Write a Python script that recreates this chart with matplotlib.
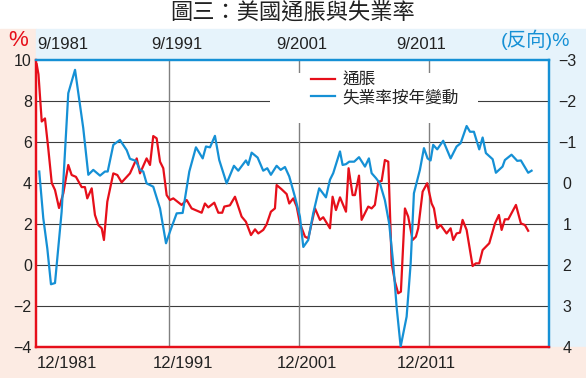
import matplotlib.pyplot as plt
from matplotlib.patches import Rectangle
from matplotlib.transforms import blended_transform_factory

# 通脹 (left axis, %)
cpi_x = [1981.57, 1981.71, 1981.96, 1982.21, 1982.46, 1982.73, 1982.98, 1983.29, 1983.62, 1984.00,
         1984.26, 1984.59, 1985.03, 1985.28, 1985.46, 1985.80, 1986.05, 1986.31, 1986.57, 1986.74,
         1987.00, 1987.46, 1987.77, 1988.10, 1988.74, 1989.26, 1989.51, 1990.02, 1990.28, 1990.53,
         1990.79, 1991.05, 1991.30, 1991.56, 1991.81, 1992.07, 1992.71, 1993.10, 1993.48, 1994.25,
         1994.50, 1994.76, 1995.22, 1995.53, 1995.83, 1995.99, 1996.42, 1996.81, 1997.32, 1997.65,
         1998.04, 1998.35, 1998.60, 1998.98, 1999.24, 1999.57, 1999.88, 2000.01, 2000.40, 2000.78,
         2000.98, 2001.29, 2001.55, 2001.80, 2002.19, 2002.44, 2002.96, 2003.34, 2003.59, 2004.11,
         2004.31, 2004.57, 2004.88, 2005.34, 2005.54, 2005.85, 2006.03, 2006.34, 2006.54, 2007.05,
         2007.31, 2007.56, 2007.82, 2008.08, 2008.33, 2008.59, 2008.85, 2009.10, 2009.35, 2009.56,
         2009.87, 2010.12, 2010.46, 2010.71, 2010.89, 2011.23, 2011.58, 2011.92, 2012.10, 2012.35,
         2012.61, 2013.07, 2013.38, 2013.58, 2013.84, 2014.10, 2014.30, 2014.61, 2015.07, 2015.32,
         2015.58, 2015.84, 2016.35, 2016.79, 2017.09, 2017.30, 2017.55, 2017.81, 2018.40, 2018.78,
         2019.09, 2019.34]
cpi = [9.8, 9.3, 7.0, 7.15, 5.7, 4.0, 3.66, 2.78, 3.5, 4.88,
       4.39, 4.3, 3.8, 3.8, 3.25, 3.74, 2.44, 1.95, 1.79, 1.22,
       3.09, 4.47, 4.39, 4.03, 4.47, 5.2, 4.47, 5.2, 4.88, 6.29,
       6.18, 5.04, 4.72, 3.41, 3.17, 3.25, 2.93, 3.17, 2.76, 2.55,
       3.0, 2.81, 3.04, 2.55, 2.55, 2.85, 2.91, 3.33, 2.36, 2.11,
       1.46, 1.74, 1.54, 1.71, 1.98, 2.6, 2.76, 3.9, 3.69, 3.46,
       3.0, 3.25, 2.85, 2.03, 1.38, 1.3, 2.76, 2.2, 2.33, 1.79,
       3.33, 2.68, 3.3, 2.6, 4.72, 3.41, 3.41, 4.36, 2.2, 2.85,
       2.76, 2.93, 4.06, 4.1, 5.12, 5.04, 0.08, -0.81, -1.38, -1.3,
       2.76, 2.36, 1.22, 1.38, 1.79, 3.58, 3.99, 3.0, 2.76, 1.79,
       1.95, 1.54, 1.79, 1.22, 1.54, 1.58, 2.2, 1.71, -0.05, 0.08,
       0.08, 0.73, 1.06, 2.03, 2.44, 1.71, 2.23, 2.23, 2.93, 2.03,
       1.95, 1.67]

# 失業率按年變動 (right axis, inverted)
unemp_x = [1981.77, 1982.08, 1982.39, 1982.67, 1982.98, 1983.49, 1984.00, 1984.52, 1985.15, 1985.54,
           1985.92, 1986.44, 1986.82, 1987.03, 1987.46, 1987.97, 1988.49, 1988.74, 1989.20, 1989.51,
           1989.76, 1990.02, 1990.53, 1991.05, 1991.51, 1991.81, 1992.33, 1992.79, 1993.30, 1993.81,
           1994.33, 1994.58, 1994.89, 1995.27, 1995.60, 1996.17, 1996.73, 1997.06, 1997.65, 1997.83,
           1998.09, 1998.55, 1998.98, 1999.29, 1999.57, 2000.01, 2000.32, 2000.65, 2000.98, 2001.42,
           2001.80, 2002.06, 2002.44, 2002.82, 2003.28, 2003.80, 2004.11, 2004.36, 2004.88, 2005.08,
           2005.34, 2005.59, 2005.97, 2006.34, 2006.80, 2007.10, 2007.31, 2007.64, 2007.95, 2008.33,
           2008.66, 2008.97, 2009.23, 2009.54, 2010.00, 2010.31, 2010.56, 2011.02, 2011.33, 2011.61,
           2011.84, 2012.04, 2012.35, 2012.81, 2013.38, 2013.84, 2014.15, 2014.61, 2014.87, 2015.17,
           2015.58, 2015.84, 2016.09, 2016.61, 2016.86, 2017.37, 2017.55, 2018.06, 2018.50, 2018.78,
           2019.34, 2019.60]
unemp_chg = [-0.28, 0.86, 1.6, 2.47, 2.44, 0.7, -2.19, -2.76, -1.34, -0.2,
             -0.32, -0.18, -0.28, -0.28, -0.93, -1.05, -0.8, -0.59, -0.54, -0.32,
             -0.28, 0.01, 0.09, 0.62, 1.47, 1.19, 0.74, 0.73, -0.28, -0.87,
             -0.6, -0.89, -0.87, -1.15, -0.56, 0.01, -0.42, -0.3, -0.55, -0.44,
             -0.74, -0.62, -0.3, -0.36, -0.2, -0.42, -0.32, -0.39, -0.16, 0.34,
             0.82, 1.56, 1.39, 0.74, 0.13, 0.35, -0.08, -0.24, -0.77, -0.44,
             -0.46, -0.52, -0.52, -0.63, -0.4, -0.6, -0.24, -0.12, 0.01, 0.42,
             0.99, 1.96, 3.02, 3.99, 3.26, 1.96, 0.25, -0.32, -0.85, -0.6,
             -0.55, -0.93, -0.82, -1.03, -0.6, -0.89, -0.97, -1.39, -1.25, -1.25,
             -0.82, -1.11, -0.73, -0.58, -0.25, -0.4, -0.56, -0.69, -0.54, -0.55,
             -0.25, -0.3]

top_labels = ['9/1981', '9/1991', '9/2001', '9/2011']
bottom_labels = ['12/1981', '12/1991', '12/2001', '12/2011']
left_ticks = [10, 8, 6, 4, 2, 0, -2, -4]
right_ticks = [-3, -2, -1, 0, 1, 2, 3, 4]
grid_years = [1991.75, 2001.75, 2011.75]

RED = '#e60f1a'
BLUE = '#1590d5'
PINK = '#fcebe3'
LIGHTBLUE = '#e6f3fb'
TXT = '#222222'
NUM_FONT = 'Liberation Sans'
CJK = ['Liberation Sans', 'Noto Sans CJK TC']

W, H = 586, 378
fig = plt.figure(figsize=(W / 100, H / 100), dpi=100)

# background bands (pixel boxes converted to figure fractions)
def band(x0, y0, x1, y1, color):
    fig.patches.append(Rectangle((x0 / W, 1 - y1 / H), (x1 - x0) / W, (y1 - y0) / H,
                                 transform=fig.transFigure, color=color, zorder=-5))

band(0, 29, 36, 347, PINK)
band(36, 29, W, 60, LIGHTBLUE)
band(549, 60, W, 347, LIGHTBLUE)
band(0, 347, W, H, PINK)

ax = fig.add_axes([36 / W, 1 - 347 / H, 513 / W, 287 / H])
ax.set_xlim(1981.52, 2020.94)
ax.set_ylim(-4, 10)
ax.set_facecolor('white')

for v in [8, 6, 4, 2, 0, -2]:
    ax.axhline(v, color='#3c3c3c', lw=0.8, zorder=1)
for g in grid_years:
    ax.axvline(g, color='#808080', lw=1.0, zorder=1)

# white box behind the legend hides the grid
ax.add_patch(Rectangle((0.456, 0.78), 0.406, 0.175, transform=ax.transAxes,
                       facecolor='white', edgecolor='none', zorder=1.5))

l1, = ax.plot(cpi_x, cpi, color=RED, lw=1.6, zorder=3, label='通脹')

ax2 = ax.twinx()
ax2.set_ylim(4, -3)
l2, = ax2.plot(unemp_x, unemp_chg, color=BLUE, lw=1.6, zorder=3, label='失業率按年變動')

for a in (ax, ax2):
    for s in a.spines.values():
        s.set_linewidth(1.6)
    a.spines['left'].set_color(RED)
    a.spines['bottom'].set_color(RED)
    a.spines['top'].set_color(BLUE)
    a.spines['right'].set_color(BLUE)

ax.set_xticks([])
ax.set_yticks(left_ticks)
ax.tick_params(axis='y', length=0, pad=3, labelsize=11.5, labelcolor=TXT)
for t in ax.get_yticklabels():
    t.set_fontfamily(NUM_FONT)

ax2.set_yticks(right_ticks)
ax2.tick_params(axis='y', length=0, pad=13, labelsize=11.5, labelcolor=TXT)
for tk in ax2.yaxis.get_major_ticks():
    tk.label2.set_horizontalalignment('center')
    tk.label2.set_fontfamily(NUM_FONT)

# date labels on the top and bottom bands
tr = blended_transform_factory(ax.transData, ax.transAxes)
top_pos = [1981.60, 1990.36, 2000.0, 2009.18]
bottom_pos = [1981.60, 1990.49, 2000.0, 2009.23]
for x, s in zip(top_pos, top_labels):
    ax.text(x, 1.0557, s, transform=tr, ha='left', va='center', fontsize=12,
            family=NUM_FONT, color=TXT, clip_on=False)
for x, s in zip(bottom_pos, bottom_labels):
    ax.text(x, -0.0592, s, transform=tr, ha='left', va='center', fontsize=12,
            family=NUM_FONT, color=TXT, clip_on=False)

ax2.legend(handles=[l1, l2], loc='upper left', bbox_to_anchor=(0.537, 0.958),
           frameon=False, prop={'family': 'Noto Sans CJK TC', 'size': 12},
           handlelength=1.4, handletextpad=0.45, labelspacing=0.0, borderpad=0,
           borderaxespad=0, labelcolor=TXT)

fig.text(18 / W, 1 - 40 / H, '%', color=RED, fontsize=16, family=NUM_FONT,
         ha='center', va='center')
fig.text(536 / W, 1 - 40 / H, '(反向)%', color=BLUE, fontsize=14, family=CJK,
         ha='center', va='center')
fig.text(293 / W, 1 - 13 / H, '圖三：美國通脹與失業率', fontsize=16,
         family=['Noto Sans CJK TC'], ha='center', va='center', color=TXT)

fig.savefig('out.png', dpi=100)
